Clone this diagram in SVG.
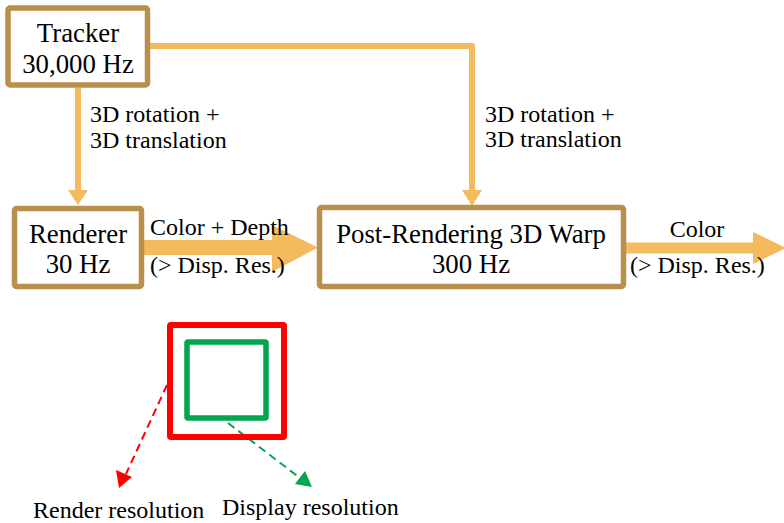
<svg xmlns="http://www.w3.org/2000/svg" width="784" height="523" viewBox="0 0 784 523">
  <style>
    .box { fill: #ffffff; stroke: #B8904B; stroke-width: 5.5; stroke-linejoin: round; }
    .node { font-family: "Liberation Serif", "Times New Roman", serif; font-size: 26.8px; fill: #000; text-anchor: middle; }
    .lbl { font-family: "Liberation Serif", "Times New Roman", serif; font-size: 24px; fill: #000; }
    .cap { font-family: "Liberation Serif", "Times New Roman", serif; font-size: 24px; fill: #000; }
    .wire { fill: none; stroke: #F3BB5E; stroke-width: 6; stroke-linejoin: round; }
    .fat { fill: #F3BB5E; }
  </style>

  <!-- connectors -->
  <g id="connectors">
    <!-- tracker to renderer -->
    <line class="wire" x1="78" y1="88" x2="78" y2="191"/>
    <polygon class="fat" points="68,190 88,190 78,205"/>
    <!-- tracker to warp -->
    <polyline class="wire" points="150,46 472,46 472,191"/>
    <polygon class="fat" points="462,190 482,190 472,206"/>
    <!-- renderer to warp (wide arrow) -->
    <polygon class="fat" points="144,240 272,240 272,225 318,247.5 272,272 272,255 144,255"/>
    <!-- warp output (wide arrow) -->
    <polygon class="fat" points="626,242.5 753,242.5 753,232 786,248 753,264 753,253.5 626,253.5"/>
    <!-- resolution pointers -->
    <line x1="167" y1="385" x2="126" y2="474" stroke="#FF0000" stroke-width="2" stroke-dasharray="8,5"/>
    <polygon points="119,488 116,470 132,477" fill="#FF0000"/>
    <line x1="228" y1="423" x2="300" y2="478" stroke="#00A650" stroke-width="2" stroke-dasharray="8,5"/>
    <polygon points="312,487 295,484 305,471" fill="#00A650"/>
  </g>

  <g id="tracker">
    <rect class="box" x="8" y="8" width="139.5" height="77" rx="2"/>
    <text class="node" x="78" y="42">Tracker</text>
    <text class="node" x="78" y="73">30,000 Hz</text>
  </g>

  <g id="renderer">
    <rect class="box" x="14.5" y="208.5" width="127" height="78" rx="2"/>
    <text class="node" x="78" y="243">Renderer</text>
    <text class="node" x="78" y="273">30 Hz</text>
  </g>

  <g id="warp">
    <rect class="box" x="319.5" y="207.5" width="304" height="79" rx="2"/>
    <text class="node" x="471" y="243">Post-Rendering 3D Warp</text>
    <text class="node" x="471" y="273">300 Hz</text>
  </g>

  <g id="labels">
    <text class="lbl" x="90" y="122">3D rotation +</text>
    <text class="lbl" x="90" y="148">3D translation</text>
    <text class="lbl" x="485" y="122">3D rotation +</text>
    <text class="lbl" x="485" y="147">3D translation</text>
    <text class="lbl" x="150" y="235">Color + Depth</text>
    <text class="lbl" x="150" y="273">(&gt; Disp. Res.)</text>
    <text class="lbl" x="697" y="237" text-anchor="middle">Color</text>
    <text class="lbl" x="630" y="273">(&gt; Disp. Res.)</text>
  </g>

  <g id="render-resolution">
    <rect x="170" y="325" width="114" height="112" fill="none" stroke="#FF0000" stroke-width="6" rx="1"/>
    <text class="cap" x="33" y="518">Render resolution</text>
  </g>

  <g id="display-resolution">
    <rect x="187" y="342" width="79" height="76" fill="none" stroke="#00A650" stroke-width="5.5" rx="1"/>
    <text class="cap" x="222" y="515">Display resolution</text>
  </g>
</svg>
